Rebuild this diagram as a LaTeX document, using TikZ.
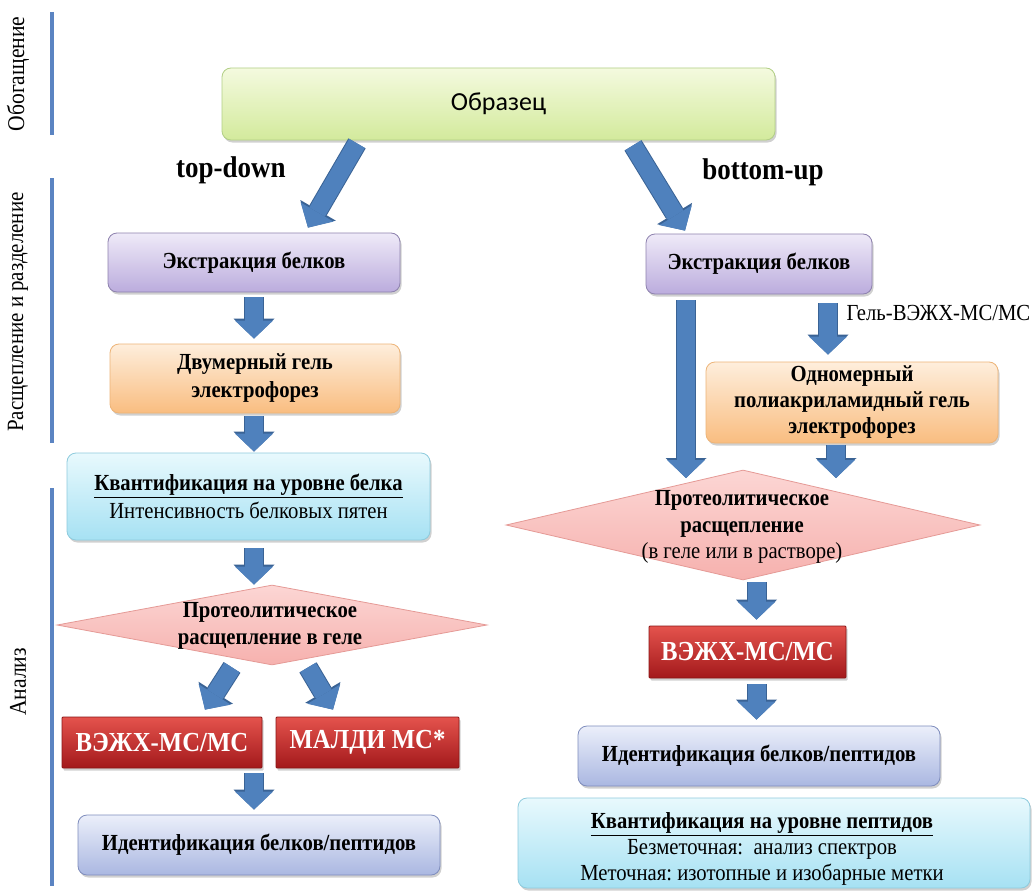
\documentclass[tikz,border=0pt]{standalone}
\usepackage{fontspec}
\setmainfont{Liberation Serif}[FakeStretch=0.9]
\newfontfamily\calibri{Carlito}
\usetikzlibrary{shapes.geometric,shadows,arrows.meta,calc}

\definecolor{arrowblue}{HTML}{4F81BD}
\definecolor{arrowdark}{HTML}{3A6395}
\definecolor{sideline}{HTML}{5B84C2}
\definecolor{greentop}{HTML}{F4FADF}
\definecolor{greenbot}{HTML}{D3EA9C}
\definecolor{greenborder}{HTML}{B2CF86}
\definecolor{purptop}{HTML}{EFEAF8}
\definecolor{purpbot}{HTML}{BBACDD}
\definecolor{purpborder}{HTML}{8E82AE}
\definecolor{orgtop}{HTML}{FEEEDC}
\definecolor{orgbot}{HTML}{F9BD80}
\definecolor{orgborder}{HTML}{EDB478}
\definecolor{cyantop}{HTML}{E8F9FD}
\definecolor{cyanbot}{HTML}{A6E1F3}
\definecolor{cyanborder}{HTML}{8ECBDD}
\definecolor{redtop}{HTML}{E4534D}
\definecolor{redbot}{HTML}{A3191B}
\definecolor{redborder}{HTML}{8A1616}
\definecolor{bluetop}{HTML}{EBEFFA}
\definecolor{bluebot}{HTML}{AAB7E1}
\definecolor{blueborder}{HTML}{7F8DBD}
\definecolor{pinktop}{HTML}{FCD6D4}
\definecolor{pinkbot}{HTML}{F6B1AE}
\definecolor{pinkborder}{HTML}{E59A96}

\tikzset{
  box/.style={rounded corners=9pt, draw, line width=0.8pt, align=center, inner sep=0pt,
    font=\bfseries\fontsize{23}{28}\selectfont,
    drop shadow={shadow xshift=1.5pt, shadow yshift=-2.5pt, opacity=0.3, fill=black!60}},
  greenbox/.style={box, draw=greenborder, top color=greentop, bottom color=greenbot},
  purpbox/.style={box, draw=purpborder, top color=purptop, bottom color=purpbot},
  orgbox/.style={box, draw=orgborder, top color=orgtop, bottom color=orgbot},
  cyanbox/.style={box, draw=cyanborder, top color=cyantop, bottom color=cyanbot},
  bluebox/.style={box, draw=blueborder, top color=bluetop, bottom color=bluebot},
  redbox/.style={box, rounded corners=1pt, draw=redborder, top color=redtop, bottom color=redbot,
    text=white, font=\bfseries\fontsize{27.5}{30}\selectfont},
  dia/.style={diamond, inner sep=0pt, draw=pinkborder, line width=0.8pt, top color=pinktop, bottom color=pinkbot},
  diatext/.style={align=center, font=\bfseries\fontsize{23}{27}\selectfont},
  sidelabel/.style={rotate=90, font=\fontsize{24}{26}\selectfont},
  sideseg/.style={draw=sideline, line width=3.5pt},
  barrow/.style={line width=18pt, draw=arrowblue, -{Triangle[width=38pt,length=18pt,line width=0pt]},
    preaction={draw=arrowdark, line width=20pt, -{Triangle[width=41pt,length=20pt,line width=0pt]}}},
  approach/.style={font=\bfseries\fontsize{30}{32}\selectfont}
}

\begin{document}
\begin{tikzpicture}[x=1pt,y=-1pt]
\useasboundingbox (0,0) rectangle (1036,891);
\fill[white] (0,0) rectangle (1036,891);

% side bars and labels
\draw[sideseg] (52,12) -- (52,135);
\draw[sideseg] (52,178) -- (52,443);
\draw[sideseg] (52,488) -- (52,886);
\node[sidelabel] (lab1) at (18,74) {Обогащение};
\node[sidelabel, font=\fontsize{23.3}{26}\selectfont] (lab2) at (18,312) {Расщепление и разделение};
\node[sidelabel] (lab3) at (18,682) {Анализ};

% top
\node[greenbox, minimum width=553pt, minimum height=72pt, font=\calibri\fontsize{26}{30}\selectfont] (sample) at (498.5,104) {Образец};
\node[approach] (td) at (231,170) {top-down};
\node[approach] (bu) at (763,172) {bottom-up};

% left column
\node[purpbox, minimum width=292pt, minimum height=59pt] (ext1) at (254,262.5) {Экстракция белков};
\node[orgbox, minimum width=290pt, minimum height=69pt] (gel1) at (255,378.5) {Двумерный гель\\электрофорез};
\node[cyanbox, minimum width=363pt, minimum height=87pt] (q1) at (248.5,496.5) {\underline{Квантификация на уровне белка}\\{\mdseries Интенсивность белковых пятен}};
\node[dia, minimum width=430pt, minimum height=80pt] (dia1) at (272,625) {};
\node[diatext] (dia1t) at (270,626) {Протеолитическое\\расщепление в геле};
\node[redbox, minimum width=200pt, minimum height=51pt] (lc1) at (162,742.5) {ВЭЖХ-МС/МС};
\node[redbox, minimum width=183pt, minimum height=51pt] (maldi) at (367.5,742.5) {МАЛДИ МС*};
\node[bluebox, minimum width=362pt, minimum height=60pt] (id1) at (259,845) {Идентификация белков/пептидов};

% right column
\node[purpbox, minimum width=226pt, minimum height=60pt] (ext2) at (759,264) {Экстракция белков};
\node[orgbox, minimum width=292pt, minimum height=81pt, font=\bfseries\fontsize{23}{26}\selectfont] (gel2) at (852,402.5) {Одномерный\\полиакриламидный гель\\электрофорез};
\node[dia, minimum width=474pt, minimum height=110pt] (dia2) at (743,525) {};
\node[diatext, font=\bfseries\fontsize{23}{26.5}\selectfont] (dia2t) at (742,527) {Протеолитическое\\расщепление\\{\mdseries (в геле или в растворе)}};
\node[redbox, minimum width=197pt, minimum height=52pt] (lc2) at (747.5,652) {ВЭЖХ-МС/МС};
\node[bluebox, minimum width=362pt, minimum height=60pt] (id2) at (759,756) {Идентификация белков/пептидов};
\node[cyanbox, minimum width=512pt, minimum height=90pt] (q2) at (774,843) {};
\node[diatext, font=\bfseries\fontsize{23}{26}\selectfont] (q2t) at (762,849) {\underline{Квантификация на уровне пептидов}\\{\mdseries Безметочная:\ \ анализ спектров}\\{\mdseries Меточная:\ изотопные и изобарные метки}};

\node[anchor=west, font=\fontsize{23}{26}\selectfont] (gellab) at (843,313) {Гель-ВЭЖХ-МС/МС};

% arrow end coordinates
\coordinate (a8e) at (686,478);
\coordinate (a10e) at (836,478);

% arrows left
\draw[barrow] ([xshift=-141.5pt,yshift=-3pt]sample.south) -- ([xshift=54pt,yshift=5pt]ext1.north);
\draw[barrow, shorten <=5pt, shorten >=5pt] (ext1.south) -- (ext1.south |- gel1.north);
\draw[barrow, shorten <=3pt, shorten >=1pt] (ext1.south |- gel1.south) -- (ext1.south |- q1.north);
\draw[barrow, shorten <=8pt, shorten >=0pt] (ext1.south |- q1.south) -- (ext1.south |- dia1.north);
\draw[barrow] ([xshift=-40pt,yshift=-2pt]dia1.south) -- ([xshift=43pt,yshift=7pt]lc1.north);
\draw[barrow] ([xshift=36pt,yshift=-2pt]dia1.south) -- ([xshift=-34.5pt,yshift=7pt]maldi.north);
\draw[barrow, shorten <=5pt, shorten >=5pt] (ext1.south |- lc1.south) -- (ext1.south |- id1.north);

% arrows right
\draw[barrow] ([xshift=134.5pt,yshift=-5pt]sample.south) -- ([xshift=-74pt,yshift=3pt]ext2.north);
\draw[barrow, shorten <=6pt] ([xshift=-73pt]ext2.south) -- (a8e);
\draw[barrow, shorten <=9pt, shorten >=7pt] ([xshift=69pt]ext2.south) -- ([xshift=69pt]ext2.south |- gel2.north);
\draw[barrow, shorten <=2pt] ([xshift=-16pt]gel2.south) -- (a10e);
\draw[barrow, shorten <=2pt, shorten >=6pt] ([xshift=9pt]lc2.north |- dia2.south) -- ([xshift=9pt]lc2.north);
\draw[barrow, shorten <=6pt, shorten >=6pt] ([xshift=9pt]lc2.south) -- ([xshift=9pt]lc2.south |- id2.north);
\end{tikzpicture}
\end{document}
